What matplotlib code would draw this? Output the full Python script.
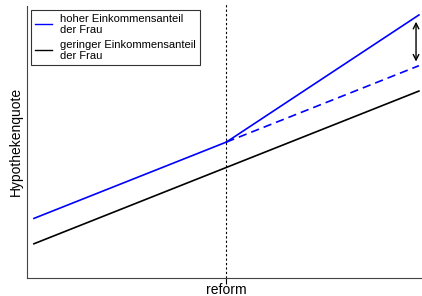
import matplotlib.pyplot as plt
import numpy as np

plt.rcParams['font.family'] = ['Liberation Sans', 'DejaVu Sans']

# zeit: 0 = start, 1 = reform, 2 = ende
x_pre = np.array([0, 1])
x_post = np.array([1, 2])
hoch_pre = np.array([2.23, 5.09])
hoch_post = np.array([5.09, 9.85])
hoch_kontra = np.array([5.09, 7.95])
gering = np.array([1.28, 4.14, 7.0])
x_all = np.array([0, 1, 2])

fig = plt.figure(figsize=(4.22, 2.96), dpi=100)
ax = fig.add_axes([0.064, 0.061, 0.936, 0.92])

ax.plot(x_pre, hoch_pre, color='blue', lw=1.2, label='hoher Einkommensanteil\nder Frau')
ax.plot(x_post, hoch_post, color='blue', lw=1.2)
ax.plot(x_post, hoch_kontra, color='blue', lw=1.2, ls=(0, (5, 3)))
ax.plot(x_all, gering, color='black', lw=1.2, label='geringer Einkommensanteil\nder Frau')
ax.axvline(1, color='black', lw=0.8, ls=(0, (2, 2)), ymax=1.01, clip_on=False)
ax.annotate('', xy=(1.985, hoch_post[1] - 0.15), xytext=(1.985, hoch_kontra[1] + 0.05),
            arrowprops=dict(arrowstyle='<->', color='black', lw=1))

ax.set_xlim(-0.036, 2.016)
ax.set_ylim(0, 10.2)
ax.set_xticks([1])
ax.set_xticklabels(['reform'], fontsize=10)
ax.set_yticks([])
ax.tick_params(axis='x', length=4, pad=0)
ax.set_ylabel('Hypothekenquote', fontsize=10, labelpad=3)
for s in ['top', 'right']:
    ax.spines[s].set_visible(False)
for s in ['left', 'bottom']:
    ax.spines[s].set_color('#444444')

leg = ax.legend(loc='upper left', fontsize=8, fancybox=False, edgecolor='black',
                handlelength=1.5, handletextpad=0.7, borderaxespad=0.35,
                labelspacing=0.45, borderpad=0.4)
leg.get_frame().set_linewidth(0.8)
for h in leg.get_lines():
    h.set_linewidth(1.0)
for t in leg.get_texts():
    t.set_linespacing(1.1)

fig.savefig('out.png', dpi=100)
